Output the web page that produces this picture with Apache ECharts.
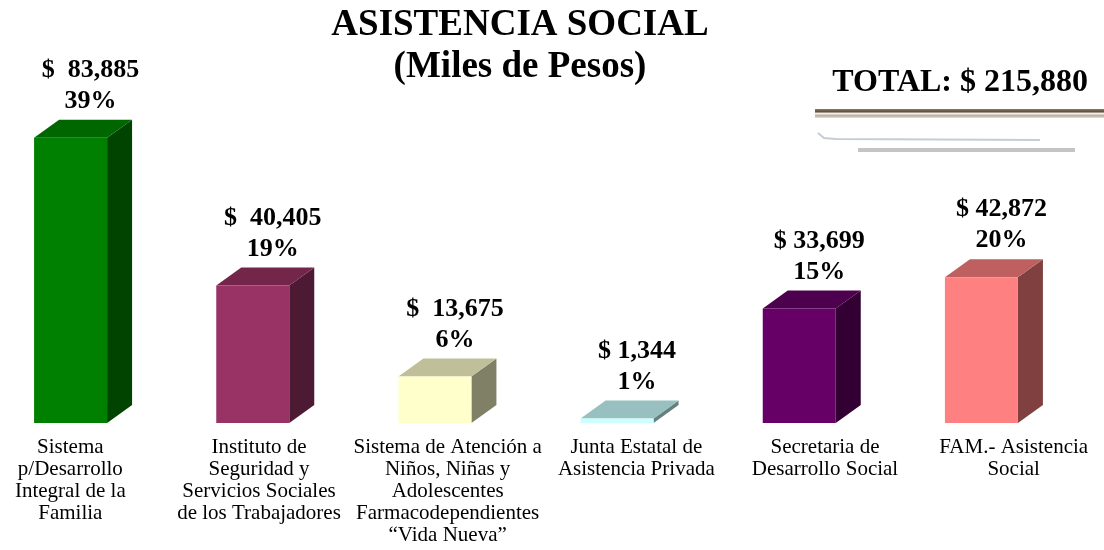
<!DOCTYPE html>
<html>
<head>
<meta charset="utf-8">
<script src="https://cdn.jsdelivr.net/npm/echarts@6/dist/echarts.min.js"></script>
<style>
  html, body { margin: 0; padding: 0; background: #fff; }
  #chart { width: 1104px; height: 550px; }
</style>
</head>
<body>
<div id="chart"></div>
<script>
// data (miles de pesos)
var categories = [
  'Sistema\np/Desarrollo\nIntegral de la\nFamilia',
  'Instituto de\nSeguridad y\nServicios Sociales\nde los Trabajadores',
  'Sistema de Atención a\nNiños, Niñas y\nAdolescentes\nFarmacodependientes\n“Vida Nueva”',
  'Junta Estatal de\nAsistencia Privada',
  'Secretaria de\nDesarrollo Social',
  'FAM.- Asistencia\nSocial'
]
var amounts = [83885, 40405, 13675, 1344, 33699, 42872]
var percents = [39, 19, 6, 1, 15, 20]
var dollarGap = ['  ', '  ', '  ', ' ', ' ', ' ']
var total = 215880

// front / top / side colours of each box
var palette = [
  { front: '#008000', top: '#006600', side: '#004400' },
  { front: '#993366', top: '#732649', side: '#4d1a33' },
  { front: '#ffffcc', top: '#bfbf99', side: '#808066' },
  { front: '#ccffff', top: '#99c0c0', side: '#668080' },
  { front: '#660066', top: '#4d004d', side: '#330033' },
  { front: '#ff8080', top: '#bf6060', side: '#804040' }
]

var SERIF = 'Liberation Serif'
var DX = 25, DY = 18, W = 73

var myChart = echarts.init(document.getElementById('chart'))
myChart.setOption({
  backgroundColor: '#fff',
  animation: false,
  title: [
    {
      text: 'ASISTENCIA SOCIAL\n(Miles de Pesos)',
      left: 520,
      top: 4,
      textAlign: 'center',
      padding: 0,
      textStyle: { fontFamily: SERIF, fontWeight: 'bold', fontSize: 37, lineHeight: 42, color: '#000' }
    },
    {
      text: 'TOTAL: $ ' + total.toLocaleString('en-US'),
      right: 16,
      top: 66,
      padding: 0,
      textStyle: { fontFamily: SERIF, fontWeight: 'bold', fontSize: 32, lineHeight: 34, color: '#000' }
    }
  ],
  graphic: [
    {
      type: 'rect',
      shape: { x: 815, y: 109, width: 289, height: 9 },
      style: {
        fill: {
          type: 'linear', x: 0, y: 0, x2: 0, y2: 1,
          colorStops: [
            { offset: 0, color: '#8a7a6a' },
            { offset: 0.3, color: '#5e5040' },
            { offset: 0.5, color: '#f4f0ea' },
            { offset: 0.75, color: '#b8aa98' },
            { offset: 1, color: '#e8e2da' }
          ]
        }
      }
    },
    {
      type: 'polyline',
      shape: { points: [[818, 133], [824, 138], [836, 139], [1040, 140]] },
      style: { stroke: '#c6ccd6', lineWidth: 2, fill: null }
    },
    {
      type: 'rect',
      shape: { x: 858, y: 148, width: 217, height: 4 },
      style: { fill: '#c4c4c4' }
    }
  ],
  grid: [
    { left: -8, right: 19, top: 83, bottom: 127, outerBoundsMode: 'none' },
    { left: -24, right: -4, top: 83, bottom: 127, outerBoundsMode: 'none' }
  ],
  xAxis: [
    { type: 'category', gridIndex: 0, data: categories, show: false },
    {
      type: 'category',
      gridIndex: 1,
      data: categories,
      axisLine: { show: false },
      axisTick: { show: false },
      axisLabel: {
        interval: 0,
        margin: 13,
        color: '#000',
        fontFamily: SERIF,
        fontSize: 21,
        lineHeight: 22
      }
    }
  ],
  yAxis: [
    { type: 'value', gridIndex: 0, min: 0, max: 100000, show: false },
    { type: 'value', gridIndex: 1, min: 0, max: 1, show: false }
  ],
  series: [
    {
      type: 'custom',
      xAxisIndex: 0,
      yAxisIndex: 0,
      clip: false,
      data: amounts.map(function (v, i) { return [i, v] }),
      renderItem: function (params, api) {
        var i = api.value(0)
        var base = api.coord([i, 0])
        var top = api.coord([i, api.value(1)])
        var c = base[0]
        var xl = c - (W + DX) / 2
        var xr = xl + W
        var yb = base[1]
        var yt = top[1]
        var col = palette[i]
        return {
          type: 'group',
          children: [
            {
              type: 'polygon',
              shape: { points: [[xr, yb], [xr + DX, yb - DY], [xr + DX, yt - DY], [xr, yt]] },
              style: { fill: col.side }
            },
            {
              type: 'polygon',
              shape: { points: [[xl, yt], [xl + DX, yt - DY], [xr + DX, yt - DY], [xr, yt]] },
              style: { fill: col.top }
            },
            {
              type: 'rect',
              shape: { x: xl, y: yt, width: W, height: yb - yt },
              style: { fill: col.front }
            },
            {
              type: 'text',
              x: (xl + xr) / 2 + 20,
              y: yt - DY - 3,
              style: {
                text: '$' + dollarGap[i] + amounts[i].toLocaleString('en-US') + '\n' + percents[i] + '%',
                align: 'center',
                verticalAlign: 'bottom',
                font: 'bold 26px "' + SERIF + '"',
                lineHeight: 31,
                fill: '#000'
              }
            }
          ]
        }
      }
    }
  ]
})
</script>
</body>
</html>
